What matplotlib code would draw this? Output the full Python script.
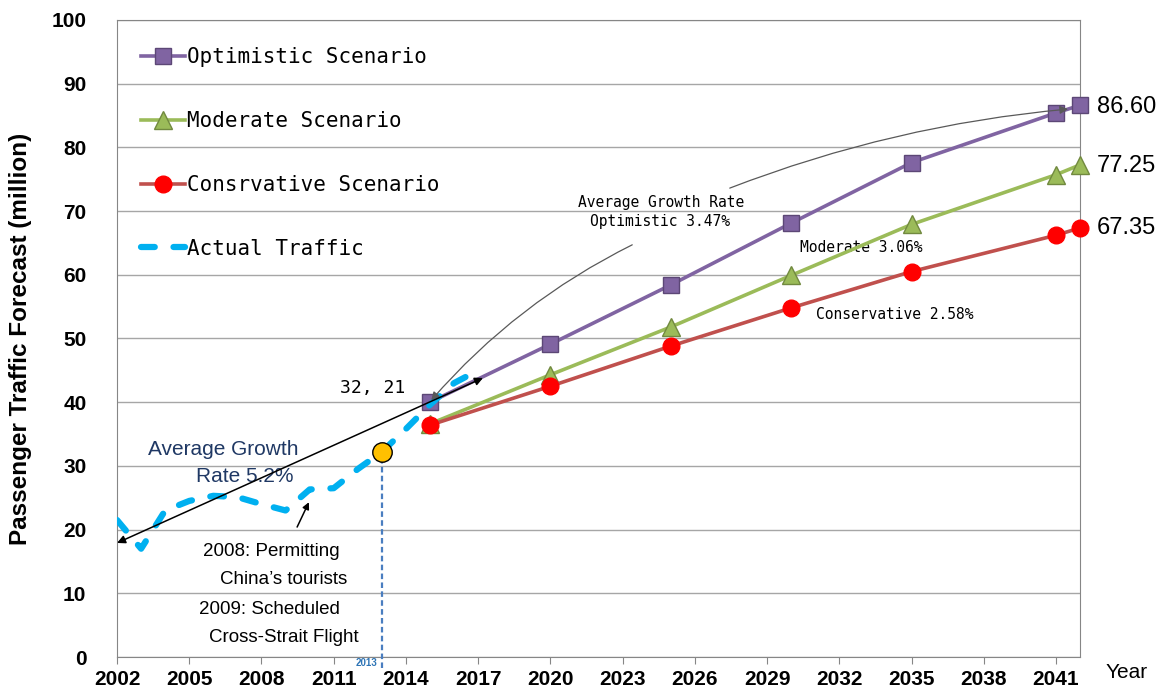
import matplotlib
matplotlib.use("Agg")
import matplotlib.pyplot as plt

# forecast years and the three scenarios
years = [2015, 2020, 2025, 2030, 2035, 2041, 2042]
optimistic = [40.0, 49.1, 58.4, 68.1, 77.6, 85.4, 86.60]
moderate = [36.6, 44.3, 51.8, 59.9, 67.9, 75.7, 77.25]
conservative = [36.4, 42.5, 48.8, 54.8, 60.5, 66.2, 67.35]

# actual traffic
act_years = [2002, 2003, 2004, 2005, 2006, 2007, 2008, 2009, 2010, 2011, 2012, 2013, 2014, 2015, 2016, 2017]
actual = [21.5, 17.0, 23.0, 24.5, 25.3, 25.1, 24.0, 23.0, 26.3, 26.5, 29.5, 32.2, 35.8, 39.6, 43.0, 45.0]

xticks = list(range(2002, 2042, 3))
yticks = list(range(0, 101, 10))

narrow = ['Liberation Sans Narrow', 'Liberation Sans', 'DejaVu Sans']
sans = ['Liberation Sans', 'DejaVu Sans']
mono = ['DejaVu Sans Mono']

fig = plt.figure(figsize=(11.68, 6.94), dpi=100)
ax = fig.add_axes([0.1002, 0.0533, 0.8245, 0.918])

ax.plot(years, optimistic, color='#8064A2', lw=2.6, marker='s', ms=12,
        mfc='#8064A2', mec='#5C4776', mew=1, label='Optimistic Scenario', zorder=4, clip_on=False)
ax.plot(years, moderate, color='#9BBB59', lw=2.6, marker='^', ms=13,
        mfc='#9BBB59', mec='#71893F', mew=1, label='Moderate Scenario', zorder=4, clip_on=False)
ax.plot(years, conservative, color='#C0504D', lw=2.6, marker='o', ms=12,
        mfc='#FF0000', mec='#FF0000', mew=1, label='Consrvative Scenario', zorder=4, clip_on=False)
ax.plot(act_years, actual, color='#00B0F0', lw=4.5, dashes=(2.2, 3.0),
        dash_capstyle='round', label='Actual Traffic', zorder=5)

# 2013 marker and drop line
ax.plot([2013, 2013], [-1.8, 32.21], color='#4A7EC0', lw=1.6, ls=(0, (2.5, 1.5)),
        clip_on=False, zorder=3)
ax.plot([2013], [32.21], marker='o', ms=14, mfc='#FFC000', mec='black', mew=1, zorder=7)
ax.text(2012.35, -1.0, '2013', color='#2E75B6', fontsize=7, fontweight='bold',
        ha='center', va='center', family=narrow)
ax.text(2013.96, 42.2, '32, 21', fontsize=13, ha='right', va='center', family=mono)

ax.set_xlim(2002, 2042)
ax.set_ylim(0, 100)
ax.set_xticks(xticks)
ax.set_yticks(yticks)
ax.set_xticklabels([str(t) for t in xticks], fontsize=15, fontweight='bold', family=narrow)
ax.set_yticklabels([str(t) for t in yticks], fontsize=15, fontweight='bold', family=narrow)
ax.tick_params(axis='y', length=0, pad=22)
ax.tick_params(axis='x', length=5, color='#868686', pad=4)
ax.grid(axis='y', color='#A6A6A6', lw=1)
ax.set_axisbelow(True)
for s in ax.spines.values():
    s.set_color('#868686')

ax.set_ylabel('Passenger Traffic Forecast (million)', fontsize=17.5, fontweight='bold',
              family=sans, labelpad=14)
ax.text(1.0485, -0.025, 'Year', transform=ax.transAxes, fontsize=15, ha='center',
        va='center', family=narrow)

# end labels
for v, lab in [(86.3, '86.60'), (77.1, '77.25'), (67.3, '67.35')]:
    ax.text(2042.7, v, lab, fontsize=17, ha='left', va='center', family=sans, clip_on=False)

# growth-rate annotations
ax.text(2024.6, 71.3, 'Average Growth Rate', fontsize=10.5, ha='center', va='center', family=mono)
ax.text(2024.55, 68.3, 'Optimistic 3.47%', fontsize=10.5, ha='center', va='center', family=mono)
ax.text(2032.9, 64.2, 'Moderate 3.06%', fontsize=10.5, ha='center', va='center', family=mono)
ax.text(2034.3, 53.8, 'Conservative 2.58%', fontsize=10.5, ha='center', va='center', family=mono)

ax.annotate('', xy=(2015.05, 40.3), xytext=(2023.4, 64.7),
            arrowprops=dict(arrowstyle='-|>', color='#595959', lw=0.9, mutation_scale=12,
                            shrinkA=0, shrinkB=0, connectionstyle='arc3,rad=0.1'), zorder=8)
ax.annotate('', xy=(2041.5, 86.0), xytext=(2027.45, 73.6),
            arrowprops=dict(arrowstyle='-|>', color='#595959', lw=0.9, mutation_scale=12,
                            shrinkA=0, shrinkB=0, connectionstyle='arc3,rad=-0.07'), zorder=8)

# historical growth arrow
ax.annotate('', xy=(2002.0, 17.9), xytext=(2017.2, 43.8), annotation_clip=False,
            arrowprops=dict(arrowstyle='<|-|>', color='black', lw=1.1, mutation_scale=12,
                            shrinkA=0, shrinkB=0), zorder=9)
ax.text(2006.4, 32.5, 'Average Growth', fontsize=15, color='#1F3864', ha='center',
        va='center', family=sans)
ax.text(2007.3, 28.3, 'Rate 5.2%', fontsize=15, color='#1F3864', ha='center',
        va='center', family=sans)

ax.annotate('', xy=(2009.97, 24.3), xytext=(2009.48, 20.4),
            arrowprops=dict(arrowstyle='-|>', color='black', lw=1.1, mutation_scale=10,
                            shrinkA=0, shrinkB=0), zorder=9)
for (x, y, s) in [(2008.4, 16.5, '2008: Permitting'), (2008.9, 12.1, 'China\u2019s tourists'),
                  (2008.35, 7.4, '2009: Scheduled'), (2008.94, 3.0, 'Cross-Strait Flight')]:
    ax.text(x, y, s, fontsize=13.5, ha='center', va='center', family=sans)

leg = ax.legend(loc='upper left', bbox_to_anchor=(0.016, 0.97), frameon=False,
                prop={'family': mono, 'size': 15}, labelspacing=2.1, handlelength=2.1,
                handletextpad=0.1, borderaxespad=0)

fig.savefig('out.png', dpi=100)
